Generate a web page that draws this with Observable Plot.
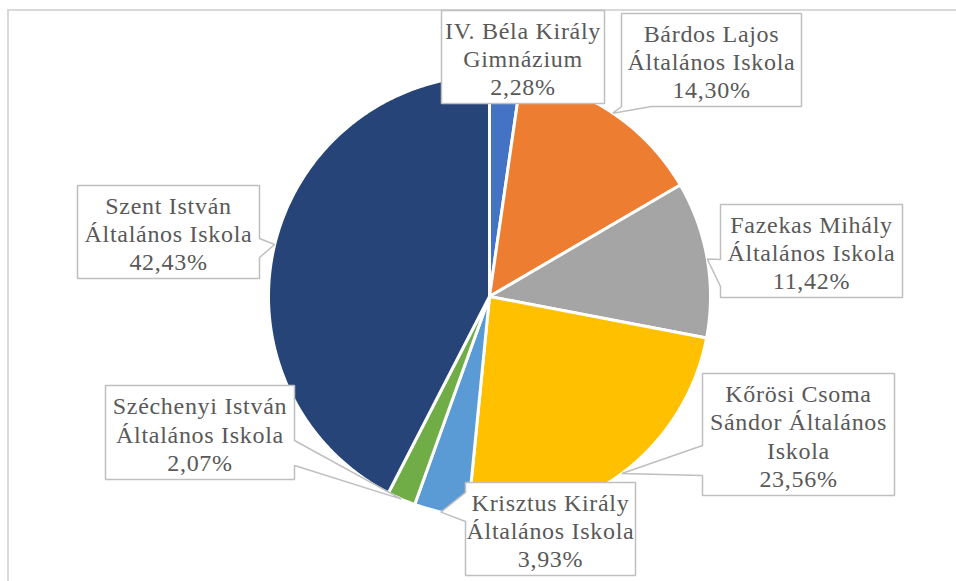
<!DOCTYPE html>
<html>
<head>
<meta charset="utf-8">
<script src="https://cdn.jsdelivr.net/npm/d3@7"></script>
<script src="https://cdn.jsdelivr.net/npm/@observablehq/plot@0.6"></script>
<style>
  html, body { margin: 0; padding: 0; background: #fff; }
  #wrap { position: relative; width: 956px; height: 581px; overflow: hidden; background: #fff; }
  #border { position: absolute; left: 7px; top: 9px; width: 1200px; height: 1200px; border: 2px solid #d9d9d9; box-sizing: border-box; }
  #chart { position: absolute; left: 0; top: 0; }
  #chart text { letter-spacing: 0.7px; }
</style>
</head>
<body>
<div id="wrap"><div id="border"></div><div id="chart"></div></div>
<script>
// ---- data ----
const schools = [
  "IV. Béla Király Gimnázium",
  "Bárdos Lajos Általános Iskola",
  "Fazekas Mihály Általános Iskola",
  "Kőrösi Csoma Sándor Általános Iskola",
  "Krisztus Király Általános Iskola",
  "Széchenyi István Általános Iskola",
  "Szent István Általános Iskola"
];
const labelLines = [
  "IV. Béla Király\nGimnázium",
  "Bárdos Lajos\nÁltalános Iskola",
  "Fazekas Mihály\nÁltalános Iskola",
  "Kőrösi Csoma\nSándor Általános\nIskola",
  "Krisztus Király\nÁltalános Iskola",
  "Széchenyi István\nÁltalános Iskola",
  "Szent István\nÁltalános Iskola"
];
const shares = [2.28, 14.30, 11.42, 23.56, 3.93, 2.07, 42.43];
const colors = ["#4472c4", "#ed7d31", "#a5a5a5", "#ffc000", "#5b9bd5", "#70ad47", "#264478"];

// ---- layout (positions/sizes, not data) ----
const pie = {cx: 489, cy: 296, r: 221};
// label boxes: [x0, y0, x1, y1], pointer side, pointer base [a, b]
const boxRects = [
  [441, 10, 604, 103],
  [621, 13, 801, 106],
  [720, 204, 902, 297],
  [702, 373, 894, 495],
  [465, 482, 635, 575],
  [105, 385, 294, 479],
  [77, 185, 259, 278]
];
const pointerSides = ["none", "bottom", "left", "left", "left", "right", "right"];
const pointerBases = [null, [621, 651], [259, 286], [445, 475], [492, 521], [440, 465], [238, 257]];

// ---- derived ----
const fmt = v => d3.format(".2f")(v).replace(".", ",") + "%";
const arcs = d3.pie().sort(null).value(d => d)(shares);
const pt = (theta, r) => [pie.cx + r * Math.sin(theta), pie.cy - r * Math.cos(theta)];

const slicePts = [];
arcs.forEach((a, i) => {
  const name = schools[i];
  slicePts.push({name, x: pie.cx, y: pie.cy});
  const n = Math.max(2, Math.ceil((a.endAngle - a.startAngle) / (Math.PI / 360)));
  for (let k = 0; k <= n; k++) {
    const t = a.startAngle + (a.endAngle - a.startAngle) * k / n;
    const [x, y] = pt(t, pie.r);
    slicePts.push({name, x, y});
  }
  slicePts.push({name, x: pie.cx, y: pie.cy});
});

const boxPts = [];
const labels = [];
arcs.forEach((a, i) => {
  const [x0, y0, x1, y1] = boxRects[i];
  const side = pointerSides[i];
  const base = pointerBases[i];
  const mid = (a.startAngle + a.endAngle) / 2;
  const tip = pt(mid, pie.r);
  const P = [];
  P.push([x0, y0], [x1, y0]);
  if (side === "right") P.push([x1, base[0]], tip, [x1, base[1]]);
  P.push([x1, y1]);
  if (side === "bottom") P.push([base[1], y1], tip, [base[0], y1]);
  P.push([x0, y1]);
  if (side === "left") P.push([x0, base[1]], tip, [x0, base[0]]);
  P.push([x0, y0]);
  P.forEach(([x, y]) => boxPts.push({name: schools[i], x, y}));
  labels.push({name: schools[i], x: (x0 + x1) / 2, y: (y0 + y1) / 2 + 1, text: labelLines[i] + "\n" + fmt(shares[i])});
});

const chart = Plot.plot({
  width: 956,
  height: 581,
  margin: 0,
  style: {background: "transparent", overflow: "visible"},
  x: {domain: [0, 956], range: [0, 956], axis: null},
  y: {domain: [0, 581], range: [0, 581], axis: null},
  color: {domain: schools, range: colors},
  marks: [
    Plot.line(slicePts, {x: "x", y: "y", z: "name", fill: "name", stroke: "white", strokeWidth: 3, strokeLinejoin: "round", curve: "linear"}),
    Plot.line(boxPts, {x: "x", y: "y", z: "name", fill: "white", stroke: "#bfbfbf", strokeWidth: 1.5, strokeLinejoin: "miter", curve: "linear"}),
    Plot.text(labels, {x: "x", y: "y", text: "text", fontSize: 24, fontFamily: "Liberation Serif", fill: "#595959", lineHeight: 1.17, lineAnchor: "middle", textAnchor: "middle"})
  ]
});
document.getElementById("chart").appendChild(chart);
</script>
</body>
</html>
